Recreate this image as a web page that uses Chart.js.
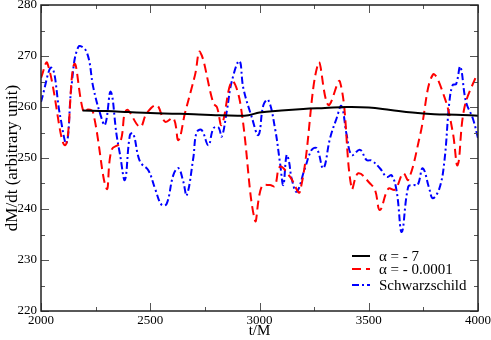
<!doctype html>
<html>
<head>
<meta charset="utf-8">
<script src="https://cdn.jsdelivr.net/npm/chart.js@4.4.1/dist/chart.umd.min.js"></script>
<style>
  * { box-sizing: border-box; }
  body { margin: 0; background: #ffffff; }
  #chart { display: block; }
</style>
</head>
<body>
<canvas id="chart" width="491" height="340"></canvas>
<script>
// t/M sample times and dM/dt values
const tAlpha7 = [2190, 2300, 2400, 2500, 2600, 2700, 2800, 2900, 2950, 3000, 3100, 3200, 3300, 3400, 3500, 3600, 3700, 3800, 3900, 4000];
const alpha7 = [259.3, 259.2, 259.0, 258.8, 258.7, 258.6, 258.4, 258.3, 258.4, 258.9, 259.3, 259.6, 259.8, 260.0, 259.9, 259.4, 258.9, 258.6, 258.5, 258.3];

const tAlphaSmall = [2000, 2029, 2110, 2152, 2194, 2215, 2238, 2300, 2323, 2362, 2392, 2453, 2484, 2530, 2568, 2606, 2629, 2659, 2705, 2728, 2789, 2805, 2827, 2873, 2911, 2979, 3010, 3048, 3070, 3094, 3140, 3185, 3269, 3315, 3368, 3422, 3452, 3506, 3529, 3551, 3590, 3620, 3658, 3681, 3735, 3793, 3846, 3884, 3907, 3937, 3991, 4000];
const alphaSmall = [265.7, 268.6, 252.5, 268.4, 259.1, 259.5, 259.0, 244.0, 251.6, 253.0, 259.4, 256.1, 258.8, 260.3, 257.1, 257.8, 253.5, 258.8, 266.3, 270.8, 260.7, 260.0, 256.5, 265.0, 261.0, 237.8, 244.4, 244.7, 244.5, 248.3, 246.3, 243.4, 268.6, 260.4, 265.0, 244.0, 247.0, 245.0, 243.7, 239.8, 244.0, 243.8, 247.0, 245.7, 254.5, 266.3, 262.0, 255.2, 248.6, 259.7, 266.0, 266.5];

const tSchw = [2000, 2049, 2087, 2117, 2140, 2171, 2209, 2240, 2270, 2293, 2319, 2346, 2362, 2384, 2407, 2422, 2453, 2491, 2522, 2552, 2575, 2606, 2629, 2651, 2667, 2697, 2712, 2735, 2766, 2789, 2812, 2827, 2850, 2873, 2908, 2926, 2964, 2995, 3018, 3040, 3071, 3094, 3109, 3124, 3135, 3147, 3170, 3208, 3239, 3262, 3292, 3323, 3353, 3375, 3399, 3422, 3460, 3490, 3513, 3551, 3582, 3605, 3628, 3651, 3681, 3704, 3724, 3747, 3777, 3793, 3823, 3846, 3869, 3884, 3900, 3919, 3945, 3976, 4000];
const schw = [261.0, 267.7, 258.4, 252.9, 264.3, 271.8, 270.8, 263.7, 258.8, 256.5, 263.0, 254.5, 250.6, 245.7, 254.5, 254.8, 249.3, 247.6, 244.0, 240.8, 241.0, 246.7, 248.0, 245.4, 242.7, 250.0, 255.0, 255.5, 252.5, 255.8, 256.0, 254.2, 259.1, 265.0, 269.0, 263.7, 258.1, 254.5, 260.4, 261.4, 255.8, 249.0, 244.7, 250.6, 249.3, 246.0, 243.4, 248.0, 251.6, 251.9, 248.0, 253.9, 257.8, 260.2, 254.5, 250.6, 251.6, 249.6, 249.5, 248.0, 246.3, 246.6, 243.4, 235.5, 244.4, 244.7, 244.7, 248.0, 244.0, 242.1, 244.0, 249.3, 261.0, 264.3, 264.5, 267.9, 261.0, 257.8, 253.9];

const seriesLabels = ['\u03b1 = - 7', '\u03b1 = - 0.0001', 'Schwarzschild'];
const xTicks = [2000, 2500, 3000, 3500, 4000];
const yTicks = [220, 230, 240, 250, 260, 270, 280];

const SERIF = '"Liberation Serif", "DejaVu Serif", serif';

function toPoints(ts, vs) {
  return ts.map(function (t, i) { return { x: t, y: vs[i] }; });
}

// inward ticks on all four sides plus the box, xmgrace style
const frameTicks = {
  id: 'frameTicks',
  afterDraw(chart) {
    const ctx = chart.ctx;
    const a = chart.chartArea;
    const xs = chart.scales.x;
    const ys = chart.scales.y;
    ctx.save();
    ctx.strokeStyle = '#555';
    ctx.lineWidth = 1;
    ctx.beginPath();
    for (let v = 2000; v <= 4000; v += 250) {
      const len = v % 500 === 0 ? 8 : 4;
      const px = Math.round(xs.getPixelForValue(v)) + 0.5;
      ctx.moveTo(px, a.bottom); ctx.lineTo(px, a.bottom - len);
      ctx.moveTo(px, a.top); ctx.lineTo(px, a.top + len);
    }
    for (let v = 220; v <= 280; v += 5) {
      const len = v % 10 === 0 ? 8 : 4;
      const py = Math.round(ys.getPixelForValue(v)) + 0.5;
      ctx.moveTo(a.left, py); ctx.lineTo(a.left + len, py);
      ctx.moveTo(a.right, py); ctx.lineTo(a.right - len, py);
    }
    ctx.stroke();
    ctx.strokeStyle = '#222';
    ctx.lineWidth = 1.5;
    ctx.strokeRect(a.left, a.top, a.right - a.left, a.bottom - a.top);
    ctx.restore();
  }
};

// legend drawn inside the plot, lower right
const insideLegend = {
  id: 'insideLegend',
  afterDatasetsDraw(chart) {
    const ctx = chart.ctx;
    const rows = [256, 269, 285];
    ctx.save();
    ctx.font = '15px ' + SERIF;
    ctx.textBaseline = 'middle';
    ctx.fillStyle = '#000';
    chart.data.datasets.forEach(function (ds, i) {
      ctx.strokeStyle = ds.borderColor;
      ctx.lineWidth = ds.borderWidth;
      ctx.setLineDash(ds.borderDash || []);
      ctx.beginPath();
      ctx.moveTo(352, rows[i]);
      ctx.lineTo(370, rows[i]);
      ctx.stroke();
      ctx.setLineDash([]);
      ctx.fillText(seriesLabels[i], 379, rows[i] + 1);
    });
    ctx.restore();
  }
};

new Chart(document.getElementById('chart'), {
  type: 'line',
  data: {
    datasets: [
      {
        label: seriesLabels[0],
        data: toPoints(tAlpha7, alpha7),
        borderColor: '#000000',
        borderWidth: 2,
        pointRadius: 0,
        tension: 0.4,
        fill: false,
      },
      {
        label: seriesLabels[1],
        data: toPoints(tAlphaSmall, alphaSmall),
        borderColor: '#ff0000',
        borderWidth: 2,
        borderDash: [9, 5],
        pointRadius: 0,
        tension: 0.4,
        fill: false,
      },
      {
        label: seriesLabels[2],
        data: toPoints(tSchw, schw),
        borderColor: '#0000ff',
        borderWidth: 2,
        borderDash: [7, 3, 2, 3],
        pointRadius: 0,
        tension: 0.4,
        fill: false,
      },
    ],
  },
  options: {
    responsive: false,
    animation: false,
    layout: { padding: { top: 5, right: 13, bottom: 0, left: 0 } },
    plugins: {
      legend: { display: false },
      tooltip: { enabled: false },
    },
    scales: {
      x: {
        type: 'linear',
        min: 2000,
        max: 4000,
        afterBuildTicks(scale) { scale.ticks = xTicks.map(function (v) { return { value: v }; }); },
        afterFit(scale) { scale.height = 29; scale.paddingLeft = 0; scale.paddingRight = 0; },
        grid: { display: false, drawTicks: false },
        border: { display: false },
        ticks: {
          color: '#000',
          padding: 2,
          maxRotation: 0,
          font: { family: SERIF, size: 13 },
          callback: function (v) { return String(v); },
        },
        title: {
          display: true,
          text: 't/M',
          color: '#000',
          padding: { top: 0, bottom: 0 },
          font: { family: SERIF, size: 15 },
        },
      },
      y: {
        min: 220,
        max: 280,
        afterBuildTicks(scale) { scale.ticks = yTicks.map(function (v) { return { value: v }; }); },
        afterFit(scale) { scale.width = 41; scale.paddingTop = 0; scale.paddingBottom = 0; },
        grid: { display: false, drawTicks: false },
        border: { display: false },
        ticks: {
          color: '#000',
          padding: 4,
          font: { family: SERIF, size: 13 },
          callback: function (v) { return String(v); },
        },
        title: {
          display: true,
          text: 'dM/dt (arbitrary unit)',
          color: '#000',
          padding: { top: 2, bottom: 0 },
          font: { family: SERIF, size: 17 },
        },
      },
    },
  },
  plugins: [frameTicks, insideLegend],
});
</script>
</body>
</html>
